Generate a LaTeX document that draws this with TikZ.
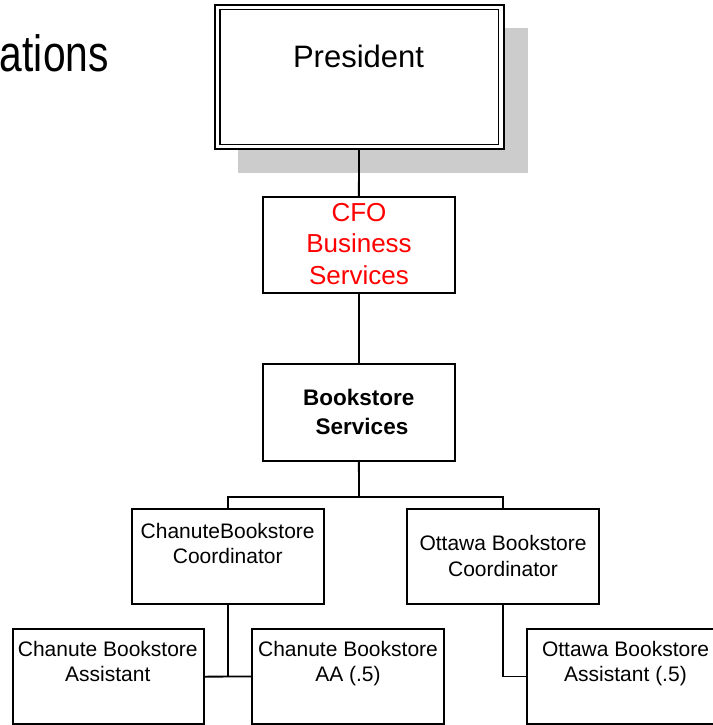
\documentclass[tikz,border=0pt]{standalone}
\usepackage{fontspec}
\setmainfont{Liberation Sans}
\newfontfamily\condfont[FakeStretch=0.8]{Liberation Sans}
\definecolor{shadowgray}{HTML}{CCCCCC}
\definecolor{cfored}{HTML}{FF0000}
\begin{document}
\begin{tikzpicture}[x=1pt,y=-1pt,
  orgbox/.style={draw=black,line width=1.8pt,rectangle,inner sep=0pt,fill=white},
  conn/.style={draw=black,line width=1.8pt},
  txt/.style={inner sep=0pt,anchor=base},
  smalltxt/.style={txt,font=\fontsize{21}{25}\selectfont}]
\useasboundingbox (0,0) rectangle (712,725);
% shadow behind President
\fill[shadowgray] (238,28) rectangle (528,173);
% boxes
\node[orgbox,line width=2pt,minimum width=289pt,minimum height=144pt] (presO) at (359,77) {};
\node[orgbox,line width=1.4pt,minimum width=278.5pt,minimum height=135pt] (presI) at (359.25,77) {};
\node[orgbox,minimum width=192.3pt,minimum height=96pt] (cfo) at (358.85,244.7) {};
\node[orgbox,minimum width=192.3pt,minimum height=96.7pt] (bks) at (358.85,412.35) {};
\node[orgbox,minimum width=192pt,minimum height=95.6pt] (cc) at (228,556.5) {};
\node[orgbox,minimum width=192.3pt,minimum height=95.3pt] (oc) at (502.85,556.65) {};
\node[orgbox,minimum width=191.3pt,minimum height=94.7pt] (ca) at (108.35,676.65) {};
\node[orgbox,minimum width=191.7pt,minimum height=95pt] (aa) at (348.15,676.5) {};
\node[orgbox,minimum width=191.3pt,minimum height=95pt] (oa) at (622.35,676.5) {};
\coordinate (bus) at (359,496.7);
% connectors
\draw[conn] (presO.south) -- (cfo.north);
\draw[conn] (cfo.south) -- (bks.north);
\draw[conn] (bks.south) -- (bus);
\draw[conn] (cc.north) |- (bus) -| (oc.north);
\draw[conn] (cc.south) -- (cc.south |- ca.east);
\draw[conn] (ca.east) -- (aa.west);
\draw[conn] (oc.south) |- (oa.west);
% texts
\node[inner sep=0pt,anchor=base east,font=\condfont\fontsize{51}{60}\selectfont] (title) at (109,71.7) {ations};
\node[txt,font=\fontsize{31}{37}\selectfont] (tpres) at (358.5,67.3) {President};
\node[txt,text=cfored,font=\fontsize{26}{31}\selectfont] (tcfo1) at (359,221.7) {CFO};
\node[txt,text=cfored,font=\fontsize{26}{31}\selectfont] (tcfo2) at (359,252.7) {Business};
\node[txt,text=cfored,font=\fontsize{26}{31}\selectfont] (tcfo3) at (359,284) {Services};
\node[txt,font=\bfseries\fontsize{22.5}{27}\selectfont] (tbks1) at (358.7,405) {Bookstore};
\node[txt,font=\bfseries\fontsize{22.5}{27}\selectfont] (tbks2) at (362,434) {Services};
\node[smalltxt] (tcc1) at (227.7,538.3) {ChanuteBookstore};
\node[smalltxt] (tcc2) at (227.7,563.3) {Coordinator};
\node[smalltxt] (toc1) at (503,550.7) {Ottawa Bookstore};
\node[smalltxt] (toc2) at (503,576) {Coordinator};
\node[smalltxt] (tca1) at (107.8,656.7) {Chanute Bookstore};
\node[smalltxt] (tca2) at (107.8,681.7) {Assistant};
\node[smalltxt] (taa1) at (348,656.7) {Chanute Bookstore};
\node[smalltxt] (taa2) at (348,681.7) {AA (.5)};
\node[smalltxt] (toa1) at (625.5,656.7) {Ottawa Bookstore};
\node[smalltxt] (toa2) at (625.5,681.7) {Assistant (.5)};
\end{tikzpicture}
\end{document}
